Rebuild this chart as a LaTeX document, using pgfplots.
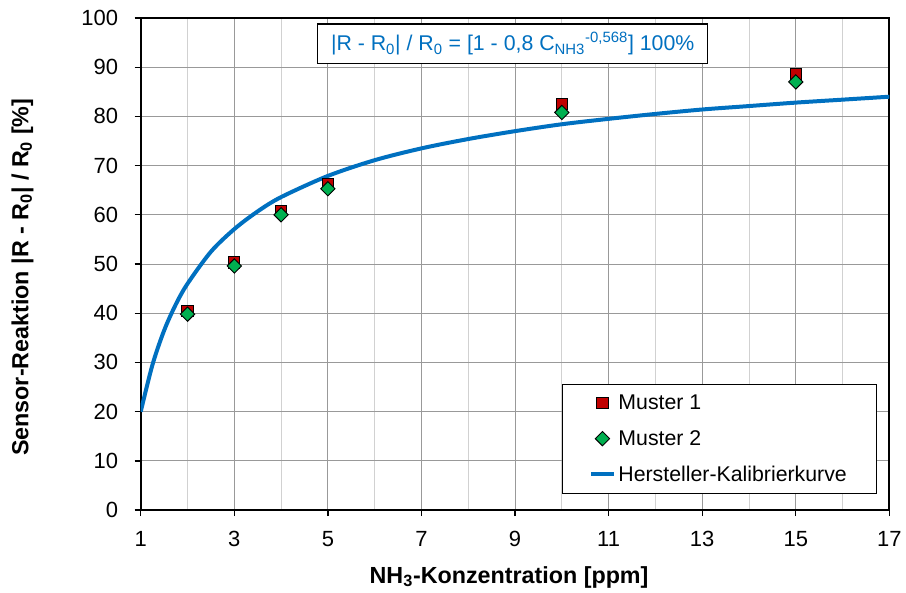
\documentclass[border=0pt]{standalone}
\usepackage{fontspec}
\setmainfont{Liberation Sans}
\usepackage{pgfplots}
\pgfplotsset{compat=1.18}
\definecolor{exblue}{RGB}{0,112,192}
\definecolor{exred}{RGB}{192,0,0}
\definecolor{exgreen}{RGB}{0,176,80}
\begin{document}
\begin{tikzpicture}
\begin{axis}[
  scale only axis, width=562.5pt, height=369.75pt,
  xmin=1, xmax=17, ymin=0, ymax=100,
  xtick={1,3,...,17}, minor xtick={2,4,...,16},
  ytick={0,10,...,100},
  xmajorgrids, xminorgrids, ymajorgrids,
  major grid style={black!40, line width=0.7pt},
  minor grid style={black!18, line width=0.7pt},
  axis line style={line width=1.5pt},
  tick align=outside, xtick pos=bottom, ytick pos=left,
  major tick length=4.5pt, minor tick length=0pt,
  tick style={black, line width=1pt},
  /pgf/number format/assume math mode=true,
  tick label style={font=\fontsize{16.5}{18}\selectfont},
  xticklabel style={yshift=-8pt},
  yticklabel style={xshift=-9pt},
  xlabel={\textbf{NH\textsubscript{3}-Konzentration [ppm]}},
  ylabel={\textbf{Sensor-Reaktion |R - R\textsubscript{0}| / R\textsubscript{0} [\%]}},
  label style={font=\fontsize{17.5}{20}\selectfont},
  xlabel style={at={(axis description cs:0.492,-0.136)}, anchor=center},
  ylabel style={at={(axis description cs:-0.158,0.473)}, anchor=center, rotate=0},
  legend style={at={(axis description cs:0.983,0.032)}, anchor=south east,
    draw=black, line width=0.8pt, inner xsep=20pt, inner ysep=6pt,
    font=\fontsize{16}{18}\selectfont, row sep=10pt, cells={anchor=west}},
  legend cell align=left,
]
\addplot[only marks, mark=square*, mark size=4.2pt,
  mark options={fill=exred, draw=black, line width=0.7pt}]
  coordinates {(2,40.5) (3,50.3) (4,60.7) (5,66.2) (10,82.5) (15,88.6)};
\addlegendentry{Muster 1}
\addplot[only marks, mark=square*, mark size=3.8pt,
  mark options={fill=exgreen, draw=black, line width=0.7pt, rotate=45}]
  coordinates {(2,39.8) (3,49.6) (4,60.0) (5,65.3) (10,80.8) (15,87.0)};
\addlegendentry{Muster 2}
\addplot[exblue, line width=3pt, smooth, no marks]
  coordinates {(1,20.0) (1.25,29.5) (1.5,36.5) (1.75,41.8) (2,46.0) (2.5,52.5)
  (3,57.1) (3.5,60.7) (4,63.6) (5,67.9) (6,71.1) (7,73.5) (8,75.4) (9,77.0)
  (10,78.4) (11,79.5) (12,80.5) (13,81.4) (14,82.1) (15,82.8) (16,83.4) (17,84.0)};
\addlegendentry{Hersteller-Kalibrierkurve}
\node[draw=black, line width=1pt, fill=white, text=exblue, inner xsep=10pt, inner ysep=6pt,
  font=\fontsize{16}{18}\selectfont]
  at (axis cs:8.95,94.8) {|R - R\textsubscript{0}| / R\textsubscript{0} = [1 - 0,8 C\textsubscript{NH3}\textsuperscript{-0,568}] 100\%};
\end{axis}
\path (current axis.south west) ++(-105.75pt,-62.25pt) coordinate (bl);
\path (current axis.north east) ++(11.25pt,13.5pt) coordinate (tr);
\useasboundingbox (bl) rectangle (tr);
\end{tikzpicture}
\end{document}
